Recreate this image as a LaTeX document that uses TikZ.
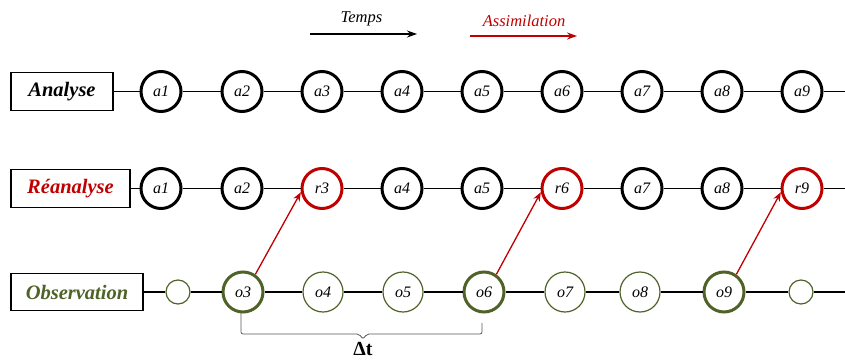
\documentclass[tikz,border=0pt]{standalone}
\usepackage{fontspec}
\setmainfont{Liberation Serif}
\usetikzlibrary{arrows.meta}
\definecolor{myred}{HTML}{C00000}
\definecolor{mygreen}{HTML}{4F6228}
\definecolor{brgray}{HTML}{595959}
\begin{document}
\begin{tikzpicture}[x=1pt,y=-1pt,
 lab/.style={draw, line width=1.5pt, font=\fontsize{20.5}{24}\selectfont\bfseries\itshape, inner sep=0pt, minimum height=38pt},
 anode/.style={circle, draw, line width=3pt, minimum size=40pt, inner sep=0pt, fill=white, font=\fontsize{16}{19}\selectfont\itshape},
 rnode/.style={anode, draw=myred},
 gthick/.style={anode, draw=mygreen},
 gthin/.style={anode, draw=mygreen, line width=1.2pt},
 gsmall/.style={circle, draw=mygreen, line width=1.2pt, minimum size=24pt, inner sep=0pt, fill=white},
 conn/.style={line width=1.3pt},
 assim/.style={draw=myred, line width=1.3pt, -{Stealth[length=9pt,width=7pt]}},
 toptext/.style={font=\fontsize{16.5}{20}\selectfont\itshape, inner sep=0pt}
]
\useasboundingbox (0,0) rectangle (845,361);

% top legend
\node[toptext] (temps) at (361.5,19) {Temps};
\coordinate (t1) at (310,34);
\coordinate (t2) at (417,34);
\draw[line width=1.2pt, -{Stealth[length=10pt,width=7pt]}] (t1) -- (t2);
\node[toptext, text=myred] (assimtxt) at (524,21) {Assimilation};
\coordinate (s1) at (470,36);
\coordinate (s2) at (577,36);
\draw[draw=myred, line width=1.2pt, -{Stealth[length=10pt,width=7pt]}] (s1) -- (s2);

% row 1
\node[lab, minimum width=102pt] (L1) at (62,91.5) {Analyse};
\foreach \i/\x in {1/161,2/242,3/322,4/402,5/482,6/562,7/642,8/722,9/802}
  \node[anode] (p\i) at (\x,91.5) {a\i};
\coordinate (e1) at (845,91.5);
\draw[conn] (L1) -- (p1);
\foreach \i [count=\j from 2] in {1,...,8} \draw[conn] (p\i) -- (p\j);
\draw[conn] (p9) -- (e1);

% row 2
\node[lab, minimum width=119pt, text=myred] (L2) at (70.5,188.5) {Réanalyse};
\foreach \i/\x in {1/161,2/242,4/402,5/482,7/642,8/722}
  \node[anode] (q\i) at (\x,188.5) {a\i};
\foreach \i/\x in {3/322,6/562,9/802}
  \node[rnode] (q\i) at (\x,188.5) {r\i};
\coordinate (e2) at (845,188.5);
\draw[conn] (L2) -- (q1);
\foreach \i [count=\j from 2] in {1,...,8} \draw[conn] (q\i) -- (q\j);
\draw[conn] (q9) -- (e2);

% row 3
\node[lab, minimum width=132pt, minimum height=37pt, text=mygreen] (L3) at (77,292) {Observation};
\node[gsmall] (o2) at (178,292) {};
\node[gthick] (o3) at (243,292) {o3};
\node[gthin] (o4) at (323,292) {o4};
\node[gthin] (o5) at (403,292) {o5};
\node[gthick] (o6) at (484,292) {o6};
\node[gthin] (o7) at (565,292) {o7};
\node[gthin] (o8) at (640,292) {o8};
\node[gthick] (o9) at (724,292) {o9};
\node[gsmall] (o10) at (801,292) {};
\coordinate (e3) at (845,292);
\draw[conn] (L3) -- (o2);
\foreach \i [count=\j from 3] in {2,...,9} \draw[conn] (o\i) -- (o\j);
\draw[conn] (o10) -- (e3);

% assimilation arrows
\draw[assim] (o3.55) -- (q3.190);
\draw[assim] (o6.55) -- (q6.190);
\draw[assim] (o9.55) -- (q9.190);

% bracket
\coordinate (b1) at (241,313);
\coordinate (b2) at (482,323);
\draw[brgray, line width=0.8pt, rounded corners=2pt] (b1) -- (241,334) -- (359,334) -- (363,339) -- (367,334) -- (482,334) -- (b2);
\node[font=\fontsize{20}{24}\selectfont\bfseries, inner sep=0pt] (dt) at (363,349) {Δt};
\end{tikzpicture}
\end{document}
